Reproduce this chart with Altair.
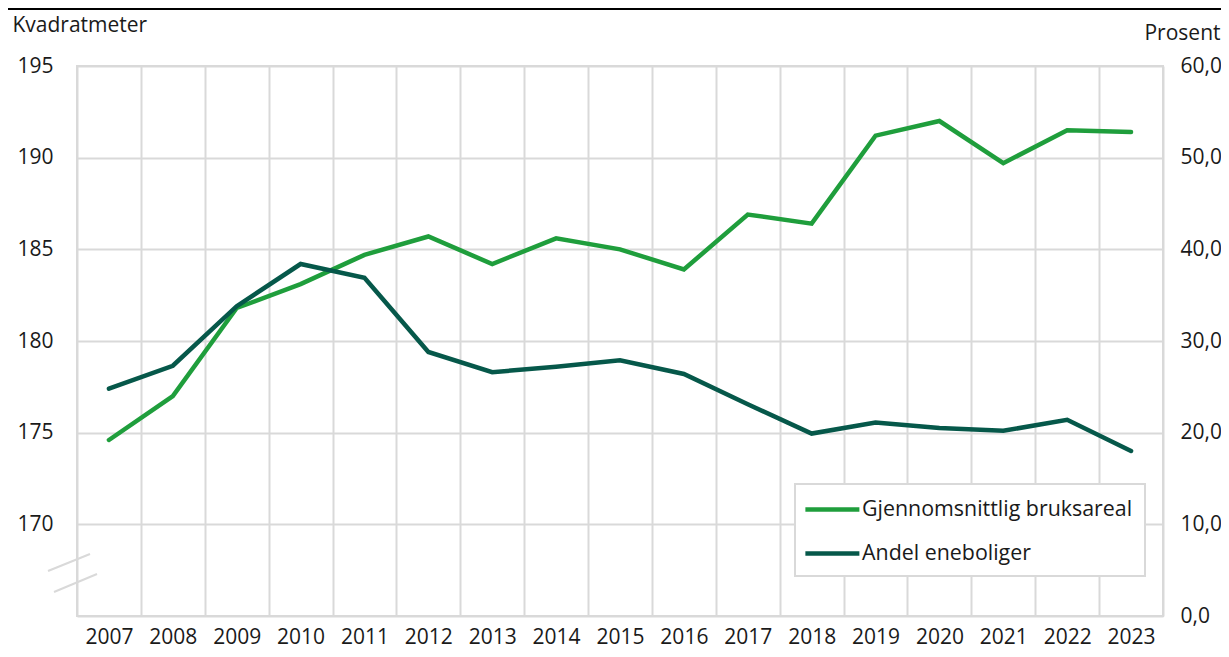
import altair as alt
import pandas as pd

years = ["2007", "2008", "2009", "2010", "2011", "2012", "2013", "2014", "2015",
         "2016", "2017", "2018", "2019", "2020", "2021", "2022", "2023"]
area = [174.6, 177.0, 181.8, 183.1, 184.7, 185.7, 184.2, 185.6, 185.0,
        183.9, 186.9, 186.4, 191.2, 192.0, 189.7, 191.5, 191.4]
share = [24.8, 27.3, 33.8, 38.4, 36.9, 28.8, 26.6, 27.2, 27.9,
         26.4, 23.1, 19.9, 21.1, 20.5, 20.2, 21.4, 18.0]
series_names = ["Gjennomsnittlig bruksareal", "Andel eneboliger"]
colors = ["#1f9e3c", "#06584a"]
left_ticks = [170, 175, 180, 185, 190, 195]
right_ticks = [0, 10, 20, 30, 40, 50, 60]

FONT = "Open Sans"
FS = 21
GRID = "#d9d9d9"
TXT = "#1a1a1a"

df_area = pd.DataFrame({"year": years, "value": area, "series": series_names[0]})
df_share = pd.DataFrame({"year": years, "value": share, "series": series_names[1]})
one = pd.DataFrame({"k": [0]})

x = alt.X(
    "year:O",
    scale=alt.Scale(type="band", paddingInner=0, paddingOuter=0),
    axis=alt.Axis(title=None, labelAngle=0, grid=True, gridColor=GRID, gridWidth=2,
                  tickBand="extent", ticks=False, tickSize=0, domain=False,
                  labelPadding=10),
)

color = alt.Color(
    "series:N",
    scale=alt.Scale(domain=series_names, range=colors),
    legend=alt.Legend(title=None, orient="none", legendX=718, legendY=418),
)

area_line = alt.Chart(df_area).mark_line(strokeWidth=4.5, strokeCap="round", strokeJoin="miter").encode(
    x=x,
    y=alt.Y(
        "value:Q",
        scale=alt.Scale(domain=[165, 195], zero=False, nice=False),
        axis=alt.Axis(values=left_ticks, title="Kvadratmeter", titleAngle=0,
                      titleAlign="left", titleX=-65, titleY=-40.5, titleBaseline="middle",
                      grid=False, domain=False, ticks=False, tickSize=0, labelPadding=24),
    ),
    color=color,
)

share_line = alt.Chart(df_share).mark_line(strokeWidth=4.5, strokeCap="round", strokeJoin="miter").encode(
    x=x,
    y=alt.Y(
        "value:Q",
        scale=alt.Scale(domain=[0, 60], nice=False),
        axis=alt.Axis(orient="right", values=right_ticks,
                      labelExpr="replace(format(datum.value, '.1f'), '.', ',')",
                      grid=True, gridColor=GRID, gridWidth=2,
                      title="Prosent", titleAngle=0, titleAlign="right",
                      titleX=57, titleY=-32.5, titleBaseline="middle",
                      domain=False, ticks=False, tickSize=0, labelPadding=17),
    ),
    color=color,
)

brk1 = alt.Chart(one).mark_rule(color=GRID, strokeWidth=2).encode(
    x=alt.value(-29), x2=alt.value(13), y=alt.value(505), y2=alt.value(488))
brk2 = alt.Chart(one).mark_rule(color=GRID, strokeWidth=2).encode(
    x=alt.value(-23), x2=alt.value(20), y=alt.value(526), y2=alt.value(508))
top_rule = alt.Chart(one).mark_rule(color="#000000", strokeWidth=2).encode(
    x=alt.value(-69), x2=alt.value(1144), y=alt.value(-57))

chart = alt.layer(area_line, share_line, brk1, brk2, top_rule).resolve_scale(
    y="independent"
).properties(
    width=1086,
    height=550,
    autosize=alt.AutoSizeParams(type="none"),
    padding={"left": 69, "top": 58, "right": 58, "bottom": 33},
).configure_view(
    stroke=GRID, strokeWidth=2
).configure_axis(
    labelFont=FONT, labelFontSize=FS, labelColor=TXT,
    titleFont=FONT, titleFontSize=FS, titleFontWeight="normal", titleColor=TXT,
).configure_legend(
    labelFont=FONT, labelFontSize=21.4, labelColor=TXT, labelLimit=500,
    symbolType="M-1.4,0H3.6", symbolStrokeWidth=4.5, symbolSize=466.6,
    strokeColor=GRID, strokeWidth=2, fillColor="#ffffff",
    padding=12, rowPadding=20, labelOffset=28,
)

chart.save("out.html", embed_options={"renderer": "svg", "actions": False})
